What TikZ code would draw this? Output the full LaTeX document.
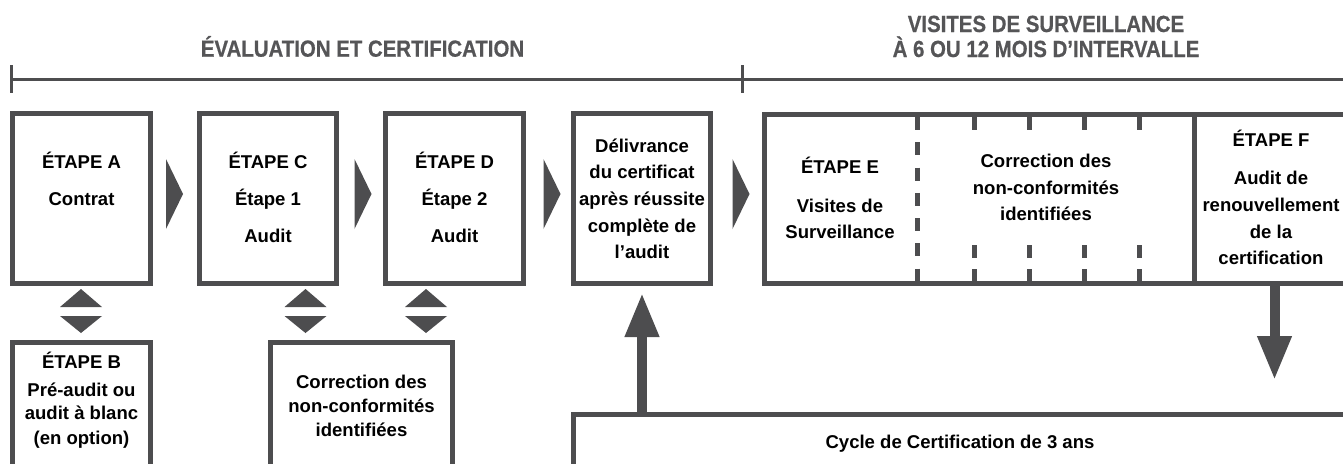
\documentclass[tikz,border=0pt]{standalone}
\usepackage{fontspec}
\setmainfont{Liberation Sans}
\newfontfamily\condfont{Liberation Sans Bold}[FakeStretch=0.875,FakeBold=0.6]
\usetikzlibrary{arrows.meta}
\definecolor{lg}{RGB}{77,77,79}
\definecolor{tg}{RGB}{85,85,87}
\begin{document}
\begin{tikzpicture}[x=0.75pt,y=-0.75pt,
  box/.style={draw=lg,line width=3.75pt,inner sep=0pt,fill=white},
  txt/.style={font=\bfseries\fontsize{13.9}{16}\selectfont,anchor=base,inner sep=0pt,text=black},
  ttl/.style={font=\condfont\fontsize{17.5}{20}\selectfont,anchor=base,inner sep=0pt,text=tg},
  bar/.style={draw=lg,line width=2.25pt},
  seg/.style={draw=lg,line width=3.75pt},
  shaft/.style={draw=lg,line width=7.5pt,-{Triangle[length=33pt 0 0,width=24pt 0 0,color=lg]}},
  dbl/.pic={\fill[lg] (-21,-4.5)--(0,-22.5)--(21,-4.5)--cycle;
            \fill[lg] (-21,4.5)--(0,21.5)--(21,4.5)--cycle;},
  rtri/.pic={\fill[lg] (-8.5,-35)--(8.5,0)--(-8.5,35)--cycle;}
]
\useasboundingbox (0,0) rectangle (1343,464);
\clip (0,0) rectangle (1343,464);

% titles
\node[ttl] (t1) at (362.5,56.7) {ÉVALUATION ET CERTIFICATION};
\node[ttl] (t2) at (1046,32) {VISITES DE SURVEILLANCE};
\node[ttl] (t3) at (1046,57) {À 6 OU 12 MOIS D’INTERVALLE};

% bracket
\coordinate (bl) at (11,79);
\coordinate (bm) at (742,79);
\coordinate (br) at (1350,79);
\draw[bar] (bl) -- (br);
\draw[bar] ([yshift=10.5pt]bl) -- ([yshift=-10.5pt]bl);
\draw[bar] ([yshift=10.5pt]bm) -- ([yshift=-10.5pt]bm);

% boxes
\node[box,minimum width=103.5pt,minimum height=127.5pt] (A) at (81.5,198.5) {};
\node[box,minimum width=102.75pt,minimum height=127.5pt] (C) at (268,198.5) {};
\node[box,minimum width=103.5pt,minimum height=127.5pt] (D) at (454.5,198.5) {};
\node[box,minimum width=102.75pt,minimum height=127.5pt] (dl) at (642,198.5) {};
\node[box,minimum width=103.5pt,minimum height=110.625pt] (B) at (81.5,416.25) {};
\node[box,minimum width=136.5pt,minimum height=110.625pt] (K) at (361.5,416.25) {};
\node[box,minimum width=619.875pt,minimum height=56.625pt] (cyc) at (986.75,452.25) {};
\node[box,minimum width=476.625pt,minimum height=126.75pt] (big) at (1082.25,199) {};

% inside big box
\draw[seg] (1194.5,114.5) -- (1194.5,283.5);
\draw[seg,dash pattern=on 9.75pt off 9.2pt] (917.5,117) -- (917.5,281);
\foreach \xx in {974.7,1029.7,1084.7,1139.7}{
  \draw[seg] (\xx,117) -- (\xx,130);
  \draw[seg] (\xx,245) -- (\xx,258);
  \draw[seg] (\xx,269) -- (\xx,281);
}

% right-pointing triangles
\pic at (174.5,194) {rtri};
\pic at (363,194) {rtri};
\pic at (552,194) {rtri};
\pic at (741,194) {rtri};

% double triangles
\pic at (81,311.5) {dbl};
\pic at (305.5,311.5) {dbl};
\pic at (426,311.5) {dbl};

% arrows
\draw[shaft,shorten >=5.25pt] (cyc.north -| dl.south) -- (dl.south);
\coordinate (Fx) at (1274.5,300);
\draw[shaft,shorten >=24pt] (big.south -| Fx) -- (cyc.north -| Fx);

% texts
\node[txt] (a1) at (81.5,168.6) {ÉTAPE A};
\node[txt] (a2) at (81.5,205.6) {Contrat};
\node[txt] (c1) at (268,168.6) {ÉTAPE C};
\node[txt] (c2) at (268,205.6) {Étape 1};
\node[txt] (c3) at (268,242.6) {Audit};
\node[txt] (d1) at (454.5,168.6) {ÉTAPE D};
\node[txt] (d2) at (454.5,205.6) {Étape 2};
\node[txt] (d3) at (454.5,242.6) {Audit};
\node[txt] (l1) at (642,152.3) {Délivrance};
\node[txt] (l2) at (642,178.9) {du certificat};
\node[txt] (l3) at (642,205.6) {après réussite};
\node[txt] (l4) at (642,232.3) {complète de};
\node[txt] (l5) at (642,258.9) {l’audit};
\node[txt] (e1) at (840,173.6) {ÉTAPE E};
\node[txt] (e2) at (840,212.6) {Visites de};
\node[txt] (e3) at (840,238.6) {Surveillance};
\node[txt] (k1) at (1046,167.6) {Correction des};
\node[txt] (k2) at (1046,194.6) {non-conformités};
\node[txt] (k3) at (1046,220.6) {identifiées};
\node[txt] (f1) at (1271,146.6) {ÉTAPE F};
\node[txt] (f2) at (1271,184.6) {Audit de};
\node[txt] (f3) at (1271,211.6) {renouvellement};
\node[txt] (f4) at (1271,238.6) {de la};
\node[txt] (f5) at (1271,264.6) {certification};
\node[txt] (b1) at (81.5,368.6) {ÉTAPE B};
\node[txt] (b2) at (81.5,396.6) {Pré-audit ou};
\node[txt] (b3) at (81.5,419.6) {audit à blanc};
\node[txt] (b4) at (81.5,444.6) {(en option)};
\node[txt] (m1) at (361.5,388.6) {Correction des};
\node[txt] (m2) at (361.5,412.6) {non-conformités};
\node[txt] (m3) at (361.5,436.6) {identifiées};
\node[txt] (y1) at (960,448.6) {Cycle de Certification de 3 ans};
\end{tikzpicture}
\end{document}
